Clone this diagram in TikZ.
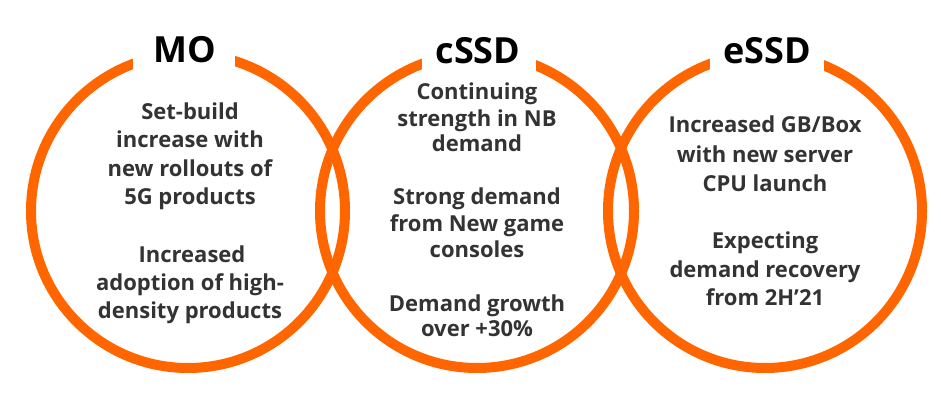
\documentclass[tikz,border=0pt]{standalone}
\usepackage{fontspec}
\setmainfont{Open Sans}
\definecolor{ringorange}{HTML}{FF6600}
\definecolor{bodytxt}{HTML}{333333}
\begin{document}
\begin{tikzpicture}[x=1pt,y=-1pt,
  ringc/.style={circle, draw=ringorange, line width=10pt, minimum size=314pt, inner sep=0pt},
  gapbox/.style={fill=white, inner sep=0pt, minimum height=38pt},
  titletxt/.style={font=\bfseries\fontsize{36}{40}\selectfont, text=black, anchor=base, inner sep=0pt},
  bodyline/.style={font=\bfseries\fontsize{22}{26}\selectfont, text=bodytxt, anchor=base, inner sep=0pt}]
\useasboundingbox (0,0) rectangle (941,395);
% rings
\node[ringc] (ringmo) at (188,211) {};
\node[ringc] (ringc) at (477,211) {};
\node[ringc] (ringe) at (765,211) {};
% gaps for titles
\node[gapbox, minimum width=102pt] (gapmo) at (184,59) {};
\node[gapbox, minimum width=114pt] (gapc) at (479,59) {};
\node[gapbox, minimum width=114pt] (gape) at (767,59) {};
% titles
\node[titletxt] (tmo) at (185,63) {MO};
\node[titletxt] (tc) at (478,64) {cSSD};
\node[titletxt] (te) at (767,64) {eSSD};
% MO body
\node[bodyline] (mo1) at (190,120) {Set-build};
\node[bodyline] (mo2) at (190,148) {increase with};
\node[bodyline] (mo3) at (190,177) {new rollouts of};
\node[bodyline] (mo4) at (190,205) {5G products};
\node[bodyline] (mo5) at (192,262) {Increased};
\node[bodyline] (mo6) at (190,290) {adoption of high-};
\node[bodyline] (mo7) at (190,318) {density products};
% cSSD body
\node[bodyline] (c1) at (477,100) {Continuing};
\node[bodyline] (c2) at (477,127) {strength in NB};
\node[bodyline] (c3) at (477,152) {demand};
\node[bodyline] (c4) at (477,205) {Strong demand};
\node[bodyline] (c5) at (477,232) {from New game};
\node[bodyline] (c6) at (477,257) {consoles};
\node[bodyline] (c7) at (477,311) {Demand growth};
\node[bodyline] (c8) at (477,336) {over +30\%};
% eSSD body
\node[bodyline] (e1) at (765,133) {Increased GB/Box};
\node[bodyline] (e2) at (765,163) {with new server};
\node[bodyline] (e3) at (765,192) {CPU launch};
\node[bodyline] (e4) at (765,248) {Expecting};
\node[bodyline] (e5) at (765,277) {demand recovery};
\node[bodyline] (e6) at (765,305) {from 2H’21};
\end{tikzpicture}
\end{document}
